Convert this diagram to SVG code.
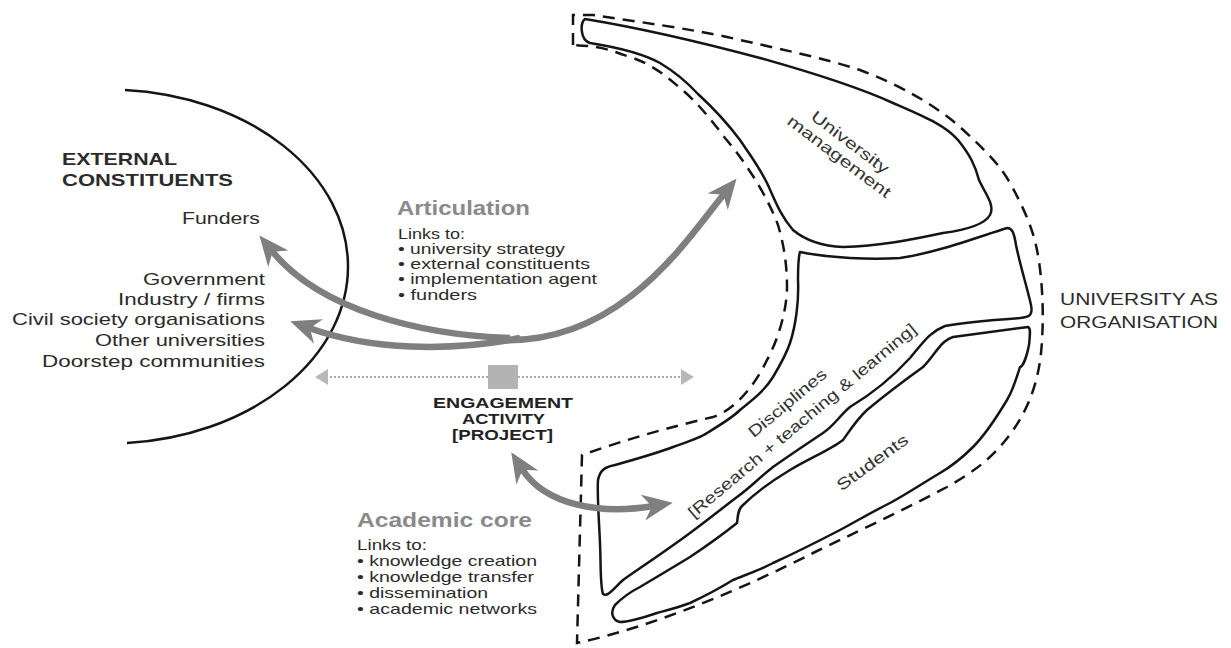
<svg xmlns="http://www.w3.org/2000/svg" width="1231" height="648" viewBox="0 0 1231 648">
<style>
text{font-family:"Liberation Sans",Arial,Helvetica,sans-serif;fill:#2b2b2b}
.b{font-weight:bold}
.h{font-weight:bold;fill:#8a8a8a;font-size:20px}
.l{font-size:17px}
.s{font-size:15px}
.e{font-size:15px;font-weight:bold;fill:#222}
.r{font-size:16px;fill:#333}
.solid{fill:none;stroke:#151515;stroke-width:2.5;stroke-linejoin:round}
.dash{fill:none;stroke:#151515;stroke-width:2.5;stroke-dasharray:12 8}
.arrow{fill:none;stroke:#7f7f7f;stroke-width:6.5}
.dot{fill:none;stroke:#ababab;stroke-width:2.2;stroke-dasharray:2 2}
</style>
<defs>
<marker id="ah" markerUnits="userSpaceOnUse" viewBox="0 -15 32 30" markerWidth="32" markerHeight="30" refX="10" refY="0" orient="auto-start-reverse">
<path d="M30,0 L0,-13 L9,0 L0,13 Z" fill="#7f7f7f"/>
</marker>
<marker id="th" markerUnits="userSpaceOnUse" viewBox="0 -9 14 18" markerWidth="14" markerHeight="18" refX="2" refY="0" orient="auto-start-reverse">
<path d="M13,0 L0,-8 L0,8 Z" fill="#b8b8b8"/>
</marker>
</defs>
<rect width="1231" height="648" fill="#fff"/>

<g id="external-constituents">
<path d="M125,90 A240,177 0 0 1 127,443" fill="none" stroke="#151515" stroke-width="2.5"/>
<text class="b" x="62" y="165" font-size="17" textLength="115" lengthAdjust="spacingAndGlyphs">EXTERNAL</text>
<text class="b" x="62" y="186" font-size="17" textLength="171" lengthAdjust="spacingAndGlyphs">CONSTITUENTS</text>
<text class="l" x="182" y="224" textLength="78" lengthAdjust="spacingAndGlyphs">Funders</text>
<text class="l" x="143" y="285" textLength="122" lengthAdjust="spacingAndGlyphs">Government</text>
<text class="l" x="118" y="305" textLength="147" lengthAdjust="spacingAndGlyphs">Industry / firms</text>
<text class="l" x="12" y="325" textLength="253" lengthAdjust="spacingAndGlyphs">Civil society organisations</text>
<text class="l" x="95" y="346" textLength="170" lengthAdjust="spacingAndGlyphs">Other universities</text>
<text class="l" x="42" y="367" textLength="223" lengthAdjust="spacingAndGlyphs">Doorstep communities</text>
</g>

<g id="articulation">
<text class="h" x="397" y="215" textLength="133" lengthAdjust="spacingAndGlyphs">Articulation</text>
<text class="s" x="398" y="239" textLength="67" lengthAdjust="spacingAndGlyphs">Links to:</text>
<text class="s" x="398" y="254" textLength="167" lengthAdjust="spacingAndGlyphs">• university strategy</text>
<text class="s" x="398" y="269" textLength="192" lengthAdjust="spacingAndGlyphs">• external constituents</text>
<text class="s" x="398" y="284" textLength="199" lengthAdjust="spacingAndGlyphs">• implementation agent</text>
<text class="s" x="398" y="300" textLength="79" lengthAdjust="spacingAndGlyphs">• funders</text>
</g>

<g id="academic-core">
<text class="h" x="357" y="527" textLength="175" lengthAdjust="spacingAndGlyphs">Academic core</text>
<text class="s" x="357" y="550" textLength="70" lengthAdjust="spacingAndGlyphs">Links to:</text>
<text class="s" x="357" y="566" textLength="180" lengthAdjust="spacingAndGlyphs">• knowledge creation</text>
<text class="s" x="357" y="582" textLength="177" lengthAdjust="spacingAndGlyphs">• knowledge transfer</text>
<text class="s" x="357" y="598" textLength="131" lengthAdjust="spacingAndGlyphs">• dissemination</text>
<text class="s" x="357" y="614" textLength="180" lengthAdjust="spacingAndGlyphs">• academic networks</text>
</g>

<g id="university">
<path class="dash" d="M573,45 L573,15 L593,15 C640,22 690,29 727,37 C775,48 820,57 860,70 C900,85 935,105 960,127 C985,150 1000,165 1010,183 C1025,210 1033,230 1037,250 C1042,275 1044,310 1042,340 C1040,385 1025,420 997,450 C983,465 965,477 947,487 C900,512 850,535 813,553 C750,585 660,625 577,643 L582,455 C610,445 650,432 713,417 C735,410 755,385 767,360 C778,340 787,310 787,287 C787,265 784,245 778,225 C768,198 748,165 725,138 C710,118 695,100 680,88 C662,72 647,62 627,56 C610,50 600,46 573,45 Z"/>
<text x="1060" y="305" font-size="17" fill="#333" textLength="158" lengthAdjust="spacingAndGlyphs">UNIVERSITY AS</text>
<text x="1060" y="328" font-size="17" fill="#333" textLength="158" lengthAdjust="spacingAndGlyphs">ORGANISATION</text>
</g>

<g id="university-management">
<path class="solid" d="M585,19 C640,28 700,42 760,58 C810,72 860,88 893,103 C925,117 945,125 958,140 C970,155 975,165 979,180 C986,195 995,205 990,215 C985,224 965,230 943,233 C910,240 880,246 843,247 C820,246 805,240 793,230 C780,215 775,200 767,183 C758,165 750,155 740,140 C725,120 710,105 698,94 C685,80 675,72 660,63 C640,52 615,47 590,43 C580,40 580,23 585,19 Z"/>
<g transform="translate(845,149) rotate(37)">
<text class="r" x="0" y="-3" text-anchor="middle" textLength="93" lengthAdjust="spacingAndGlyphs">University</text>
<text class="r" x="0" y="15" text-anchor="middle" textLength="125" lengthAdjust="spacingAndGlyphs">management</text>
</g>
</g>

<g id="disciplines">
<path class="solid" d="M800,252 C830,258 870,260 900,258 C935,253 975,238 1007,228 C1012,228 1014,232 1016,245 C1020,265 1027,287 1031,305 C1033,315 1030,317 1020,318 C990,320 960,323 945,326 C930,332 925,340 910,358 C890,380 870,395 850,407 C840,415 835,425 823,433 C805,445 790,455 773,467 C760,477 750,488 737,497 C720,510 705,522 690,533 C670,548 640,568 623,580 C612,590 608,597 603,594 C600,585 601,565 600,543 C599,520 597,495 598,480 C600,470 605,467 615,465 C640,458 660,452 673,447 C690,441 700,438 707,433 C720,425 732,418 740,410 C755,398 765,390 773,377 C782,362 786,355 790,343 C796,325 799,300 798,280 C798,268 798,258 800,252 Z"/>
<g transform="translate(794,411) rotate(-40)">
<text class="r" x="0" y="-5" text-anchor="middle" font-size="17" textLength="97" lengthAdjust="spacingAndGlyphs">Disciplines</text>
<text class="r" x="0" y="18" text-anchor="middle" font-size="17" textLength="292" lengthAdjust="spacingAndGlyphs">[Research + teaching &amp; learning]</text>
</g>
</g>

<g id="students">
<path class="solid" d="M953,337 L1028,327 C1031,328 1030,335 1029,345 C1026,360 1022,367 1020,367 C1016,380 1012,392 1007,400 C995,420 985,435 973,447 C962,458 952,466 940,473 C920,485 905,495 890,503 C870,513 855,522 840,530 C815,543 795,553 773,563 C760,570 745,575 733,580 C720,588 705,596 690,603 C680,607 668,610 657,613 C645,617 630,622 620,622 C612,620 610,612 615,605 C622,598 630,592 640,587 C655,578 672,568 690,557 C705,547 722,535 737,523 C738,515 738,510 742,506 C750,498 765,485 790,470 C810,458 830,450 843,440 C850,430 858,418 867,410 C885,395 905,380 923,367 C930,360 935,352 937,350 C942,343 947,339 953,337 Z"/>
<g transform="translate(872,462) rotate(-36)">
<text class="r" x="0" y="6" text-anchor="middle" font-size="17" textLength="84" lengthAdjust="spacingAndGlyphs">Students</text>
</g>
</g>

<g id="engagement-activity">
<rect x="488" y="365" width="30" height="24" fill="#b3b3b3"/>
<text class="e" x="433" y="408" textLength="140" lengthAdjust="spacingAndGlyphs">ENGAGEMENT</text>
<text class="e" x="462" y="424" textLength="83" lengthAdjust="spacingAndGlyphs">ACTIVITY</text>
<text class="e" x="452" y="440" textLength="101" lengthAdjust="spacingAndGlyphs">[PROJECT]</text>
</g>

<g id="connectors">
<path class="dot" d="M488,377 L326,377" marker-end="url(#th)"/>
<path class="dot" d="M518,377 L683,377" marker-end="url(#th)"/>
<path class="arrow" d="M500,340 C620,345 686,241 724,194" marker-end="url(#ah)"/>
<path class="arrow" d="M510,338 C420,335 320,310 272,251" marker-end="url(#ah)"/>
<path class="arrow" stroke-width="5.5" d="M520,338 C450,352 370,350 309,328" marker-end="url(#ah)"/>
<path class="arrow" d="M522,469 C545,505 600,515 653,506" marker-start="url(#ah)" marker-end="url(#ah)"/>
</g>
</svg>
